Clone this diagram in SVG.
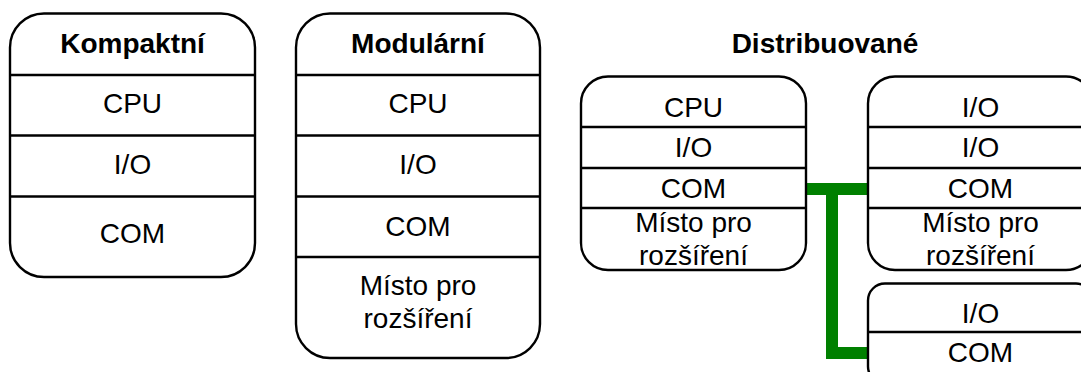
<svg xmlns="http://www.w3.org/2000/svg" width="1081" height="372" viewBox="0 0 1081 372">
<style>
.box{fill:#ffffff;stroke:#000000;stroke-width:2.4}
.div{stroke:#000000;stroke-width:2.4}
.t{font-family:"Liberation Sans",Arial,sans-serif;font-size:28px;fill:#000000;text-anchor:middle}
.b{font-weight:bold}
.link{fill:none;stroke:#008000;stroke-width:12;stroke-linejoin:miter;stroke-linecap:butt}
</style>
<rect width="1081" height="372" fill="#ffffff"/>
<g id="kompaktni">
<rect class="box" x="10" y="13.5" width="245" height="263.5" rx="34" ry="34"/>
<line class="div" x1="10" y1="75" x2="255" y2="75"/>
<line class="div" x1="10" y1="135.5" x2="255" y2="135.5"/>
<line class="div" x1="10" y1="196.5" x2="255" y2="196.5"/>
<text class="t b" x="132.5" y="53">Kompaktní</text>
<text class="t" x="132.5" y="113">CPU</text>
<text class="t" x="132.5" y="174">I/O</text>
<text class="t" x="132.5" y="243">COM</text>
</g>
<g id="modularni">
<rect class="box" x="296" y="13.5" width="244" height="344.5" rx="34" ry="34"/>
<line class="div" x1="296" y1="75" x2="540" y2="75"/>
<line class="div" x1="296" y1="135.5" x2="540" y2="135.5"/>
<line class="div" x1="296" y1="196.5" x2="540" y2="196.5"/>
<line class="div" x1="296" y1="257" x2="540" y2="257"/>
<text class="t b" x="418" y="53">Modulární</text>
<text class="t" x="418" y="113">CPU</text>
<text class="t" x="418" y="174">I/O</text>
<text class="t" x="418" y="236">COM</text>
<text class="t" x="418" y="295">Místo pro</text>
<text class="t" x="418" y="328">rozšíření</text>
</g>
<g id="distribuovane-title">
<text class="t b" x="825" y="53">Distribuované</text>
</g>
<g id="connectors">
<path class="link" d="M806,189 H868"/>
<path class="link" d="M832,189 V353 H868"/>
</g>
<g id="dist-cpu">
<rect class="box" x="581" y="76.5" width="225" height="193.5" rx="27" ry="27"/>
<line class="div" x1="581" y1="127" x2="806" y2="127"/>
<line class="div" x1="581" y1="168" x2="806" y2="168"/>
<line class="div" x1="581" y1="208" x2="806" y2="208"/>
<text class="t" x="693.5" y="116.5">CPU</text>
<text class="t" x="693.5" y="157">I/O</text>
<text class="t" x="693.5" y="198">COM</text>
<text class="t" x="693.5" y="232">Místo pro</text>
<text class="t" x="693.5" y="265">rozšíření</text>
</g>
<g id="dist-io1">
<rect class="box" x="868" y="76.5" width="225" height="193.5" rx="27" ry="27"/>
<line class="div" x1="868" y1="127" x2="1093" y2="127"/>
<line class="div" x1="868" y1="168" x2="1093" y2="168"/>
<line class="div" x1="868" y1="208" x2="1093" y2="208"/>
<text class="t" x="980.5" y="116.5">I/O</text>
<text class="t" x="980.5" y="157">I/O</text>
<text class="t" x="980.5" y="198">COM</text>
<text class="t" x="980.5" y="232">Místo pro</text>
<text class="t" x="980.5" y="265">rozšíření</text>
</g>
<g id="dist-io2">
<rect class="box" x="868" y="283.5" width="225" height="100" rx="17" ry="17"/>
<line class="div" x1="868" y1="332" x2="1093" y2="332"/>
<text class="t" x="980.5" y="323">I/O</text>
<text class="t" x="980.5" y="362">COM</text>
</g>
</svg>
